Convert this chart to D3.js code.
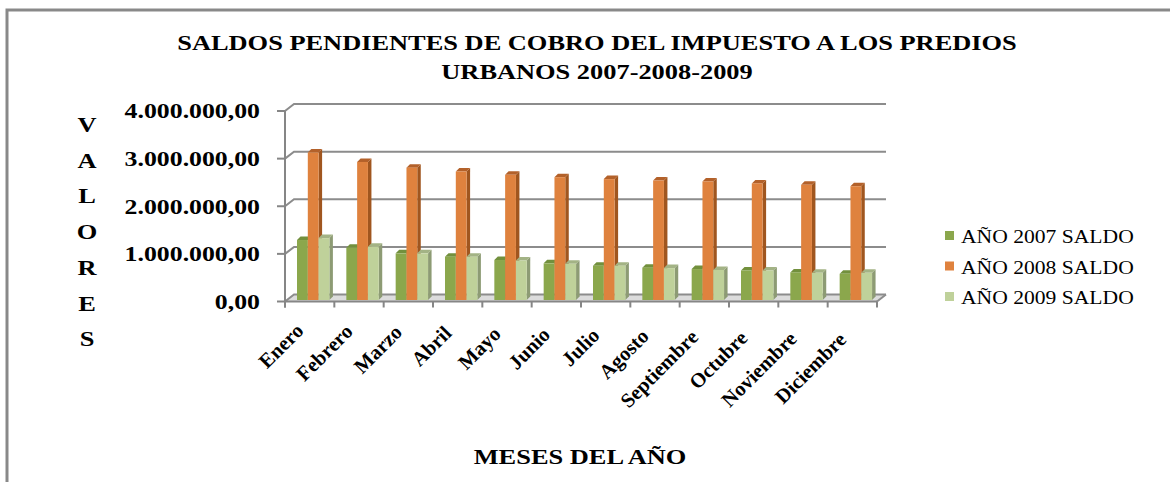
<!DOCTYPE html>
<html>
<head>
<meta charset="utf-8">
<script src="https://cdn.jsdelivr.net/npm/d3@7"></script>
<style>
  html, body { margin: 0; padding: 0; background: #fff; }
  svg { display: block; }
  text { font-family: "Liberation Serif", "Times New Roman", serif; fill: #000; }
</style>
</head>
<body>
<div id="chart"></div>
<script>
const months = ['Enero', 'Febrero', 'Marzo', 'Abril', 'Mayo', 'Junio', 'Julio',
  'Agosto', 'Septiembre', 'Octubre', 'Noviembre', 'Diciembre'];
const seriesNames = ['AÑO 2007 SALDO', 'AÑO 2008 SALDO', 'AÑO 2009 SALDO'];
const saldo2007 = [1260000, 1100000, 980000, 910000, 840000, 770000, 720000, 680000, 650000, 620000, 580000, 550000];
const saldo2008 = [3100000, 2900000, 2780000, 2700000, 2630000, 2580000, 2540000, 2510000, 2490000, 2450000, 2420000, 2390000];
const saldo2009 = [1300000, 1120000, 980000, 910000, 830000, 760000, 720000, 670000, 630000, 620000, 570000, 570000];
const yTicks = [0, 1000000, 2000000, 3000000, 4000000];
const titleLines = ['SALDOS PENDIENTES DE COBRO DEL IMPUESTO A LOS PREDIOS', 'URBANOS 2007-2008-2009'];
const yTitle = 'VALORES';
const xTitle = 'MESES DEL AÑO';

const width = 1170;
const height = 482;
const stretch = 1.2;          // the original picture is stretched sideways
const wallDx = 9, wallDy = -7; // front plane -> back wall
const barDx = 3.5, barDy = -3.5;

const colors = [
  { front: '#8ba74c', side: '#6c8638', top: '#72903d' },
  { front: '#df823e', side: '#a0561f', top: '#b3612a' },
  { front: '#bfd19a', side: '#8d9b74', top: '#a3b385' }
];

const locale = d3.formatLocale({ decimal: ',', thousands: '.', grouping: [3], currency: ['', ''] });
const fmt = locale.format(',.2f');

const x = d3.scaleBand().domain(months).range([285, 877]);
const xInner = d3.scaleBand().domain(seriesNames).range([12, 44.4]);
const yFront = d3.scaleLinear().domain([0, 4000000]).range([301.5, 111]);
const yBar = d3.scaleLinear().domain([0, 4000000]).range([300, 109.6]);

const svg = d3.select('#chart').append('svg')
  .attr('width', width)
  .attr('height', height);

function stretched(sel, px, py, extra) {
  sel.attr('transform', `translate(${px},${py}) scale(${stretch},1)${extra || ''}`);
}

function renderFrame() {
  svg.append('path')
    .attr('d', `M7,${height} V10 H${width}`)
    .attr('fill', 'none')
    .attr('stroke', '#898989')
    .attr('stroke-width', 3);
}

function renderWalls() {
  const [x0, x1] = x.range();
  const y0 = yFront(0);

  // floor
  svg.append('path')
    .attr('d', `M${x0},${y0} L${x1},${y0} L${x1 + wallDx},${y0 + wallDy} L${x0 + wallDx},${y0 + wallDy} Z`)
    .attr('fill', '#dcdcdc');

  const grid = svg.append('g')
    .attr('stroke', '#8c8c8c')
    .attr('stroke-width', 2)
    .attr('fill', 'none');

  grid.selectAll('.grid')
    .data(yTicks).enter()
    .append('path')
    .attr('d', d => `M${x0},${yFront(d)} L${x0 + wallDx},${yFront(d) + wallDy} H${x1 + wallDx}`);

  grid.append('path')
    .attr('d', `M${x1},${y0} L${x1 + wallDx},${y0 + wallDy}`);

  // y axis on the front plane
  const axis = svg.append('g')
    .attr('stroke', '#868686')
    .attr('stroke-width', 2)
    .attr('fill', 'none');
  axis.append('path').attr('d', `M${x0},${yFront(4000000)} V${y0 + 6} M${x0},${y0} H${x1}`);
  axis.selectAll('.ytick')
    .data(yTicks).enter()
    .append('path')
    .attr('d', d => `M${x0 - 8},${yFront(d)} H${x0}`);
  axis.selectAll('.xtick')
    .data(months.concat('end')).enter()
    .append('path')
    .attr('d', (d, i) => {
      const px = x0 + i * x.step();
      return `M${px},${y0} V${y0 + 6}`;
    });
}

function renderBars() {
  const data = months.map((m, i) => ({
    month: m,
    values: [saldo2007[i], saldo2008[i], saldo2009[i]]
  }));

  const groups = svg.selectAll('.month')
    .data(data).enter()
    .append('g')
    .attr('class', 'month')
    .attr('transform', d => `translate(${x(d.month)},0)`);

  const bars = groups.selectAll('.bar')
    .data(d => d.values.map((v, s) => ({ v, s }))).enter()
    .append('g')
    .attr('class', 'bar');

  const w = xInner.bandwidth();
  const yb = yBar(0);

  bars.append('path')
    .attr('fill', d => colors[d.s].side)
    .attr('d', d => {
      const bx = xInner(seriesNames[d.s]) + w;
      const yt = yBar(d.v);
      return `M${bx},${yb} L${bx + barDx},${yb + barDy} L${bx + barDx},${yt + barDy} L${bx},${yt} Z`;
    });

  bars.append('path')
    .attr('fill', d => colors[d.s].top)
    .attr('d', d => {
      const bx = xInner(seriesNames[d.s]);
      const yt = yBar(d.v);
      return `M${bx},${yt} L${bx + barDx},${yt + barDy} L${bx + w + barDx},${yt + barDy} L${bx + w},${yt} Z`;
    });

  bars.append('rect')
    .attr('x', d => xInner(seriesNames[d.s]))
    .attr('y', d => yBar(d.v))
    .attr('width', w)
    .attr('height', d => yb - yBar(d.v))
    .attr('fill', d => colors[d.s].front);
}

function renderTexts() {
  svg.selectAll('.title')
    .data(titleLines).enter()
    .append('text')
    .attr('text-anchor', 'middle')
    .style('font-size', '22px')
    .style('font-weight', 'bold')
    .text(d => d)
    .each(function(d, i) { stretched(d3.select(this), 597, 50 + i * 29); });

  svg.selectAll('.ylabel')
    .data(yTicks).enter()
    .append('text')
    .attr('text-anchor', 'end')
    .attr('dy', '0.34em')
    .style('font-size', '21.5px')
    .style('font-weight', 'bold')
    .text(d => fmt(d))
    .each(function(d) { stretched(d3.select(this), 260, yFront(d)); });

  svg.selectAll('.ytitle')
    .data(yTitle.split('')).enter()
    .append('text')
    .attr('text-anchor', 'middle')
    .style('font-size', '22px')
    .style('font-weight', 'bold')
    .text(d => d)
    .each(function(d, i) { stretched(d3.select(this), 87, 132 + i * 35.7); });

  svg.selectAll('.xlabel')
    .data(months).enter()
    .append('text')
    .attr('text-anchor', 'end')
    .style('font-size', '20.5px')
    .style('font-weight', 'bold')
    .text(d => d)
    .attr('transform', (d, i) =>
      `translate(${x(d) + x.bandwidth() / 2 - 5},${332 + i * 0.8}) rotate(-45)`);

  svg.append('text')
    .attr('text-anchor', 'middle')
    .style('font-size', '22px')
    .style('font-weight', 'bold')
    .text(xTitle)
    .call(stretched, 580, 464);

  const legend = svg.selectAll('.legend')
    .data(seriesNames).enter()
    .append('g')
    .attr('transform', (d, i) => `translate(945,${231 + i * 30.5})`);
  legend.append('rect')
    .attr('width', 9)
    .attr('height', 9)
    .attr('fill', (d, i) => colors[i].front);
  legend.append('text')
    .style('font-size', '18px')
    .text(d => d)
    .call(stretched, 16, 12);
}

renderFrame();
renderWalls();
renderBars();
renderTexts();
</script>
</body>
</html>
